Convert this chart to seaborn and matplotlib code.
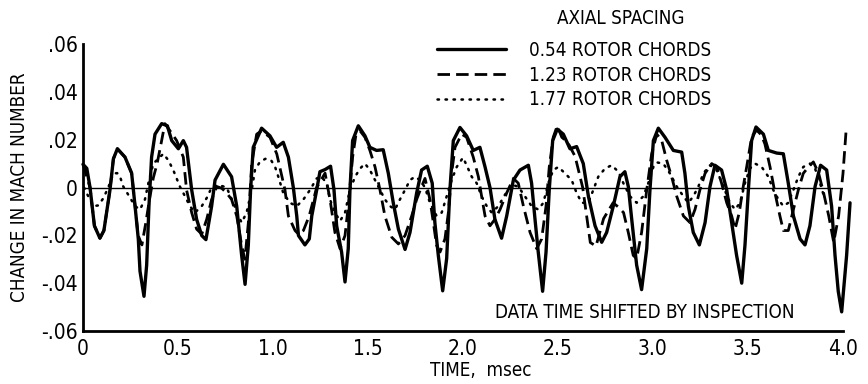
import matplotlib
matplotlib.use("Agg")
import matplotlib.pyplot as plt
from matplotlib.lines import Line2D
import seaborn as sns
import numpy as np
import pandas as pd

# ---------------- data ----------------
t_054 = [0.0, 0.02, 0.037, 0.06, 0.089, 0.11, 0.142, 0.16, 0.181, 0.221, 0.256, 0.274, 0.291, 0.300, 0.321,
         0.335, 0.347, 0.361, 0.379, 0.414, 0.444, 0.467, 0.502, 0.528, 0.545, 0.572, 0.598, 0.625, 0.647,
         0.677, 0.695, 0.739, 0.782, 0.809, 0.835, 0.853, 0.870, 0.882, 0.896, 0.940, 0.984, 1.019, 1.054,
         1.081, 1.107, 1.125, 1.134, 1.168, 1.191, 1.204, 1.230, 1.247, 1.274, 1.303, 1.321, 1.335, 1.361,
         1.379, 1.396, 1.405, 1.419, 1.449, 1.484, 1.510, 1.545, 1.580, 1.607, 1.633, 1.660, 1.695, 1.721,
         1.756, 1.782, 1.812, 1.838, 1.852, 1.870, 1.893, 1.914, 1.931, 1.949, 1.984, 2.019, 2.054, 2.089,
         2.116, 2.142, 2.168, 2.203, 2.230, 2.265, 2.300, 2.344, 2.361, 2.379, 2.396, 2.419, 2.437, 2.454,
         2.472, 2.496, 2.528, 2.563, 2.598, 2.633, 2.660, 2.695, 2.730, 2.756, 2.791, 2.826, 2.852, 2.870,
         2.888, 2.914, 2.940, 2.967, 2.984, 3.002, 3.028, 3.063, 3.107, 3.151, 3.168, 3.186, 3.212, 3.244,
         3.274, 3.300, 3.326, 3.361, 3.388, 3.414, 3.440, 3.467, 3.484, 3.502, 3.519, 3.542, 3.581, 3.607,
         3.651, 3.686, 3.712, 3.739, 3.774, 3.800, 3.826, 3.853, 3.882, 3.914, 3.940, 3.958, 3.975, 3.993,
         4.019, 4.037]
m_054 = [0.0097, 0.008, 0.0, -0.016, -0.0212, -0.018, -0.001, 0.012, 0.0162, 0.0127, 0.006, -0.0078, -0.0215,
         -0.035, -0.0455, -0.0325, -0.008, 0.0127, 0.0223, 0.0267, 0.0258, 0.0196, 0.0162, 0.0196, 0.0168,
         -0.001, -0.0133, -0.0201, -0.0218, -0.0078, 0.0031, 0.0097, 0.0045, -0.0078, -0.0284, -0.0405,
         -0.0242, -0.001, 0.0168, 0.0248, 0.0216, 0.0168, 0.0189, 0.0127, 0.0, -0.0119, -0.0201, -0.024,
         -0.0215, -0.0119, -0.001, 0.0066, 0.0075, 0.0089, -0.001, -0.016, -0.027, -0.0395, -0.0256, -0.001,
         0.0196, 0.0258, 0.0216, 0.0168, 0.0155, 0.0158, 0.0059, -0.0064, -0.0174, -0.0259, -0.0188, -0.0023,
         0.0073, 0.0089, 0.0018, -0.0147, -0.0284, -0.0432, -0.0297, -0.001, 0.0196, 0.0251, 0.0216, 0.0155,
         0.0168, 0.0086, 0.0, -0.0133, -0.0212, -0.0119, 0.0031, 0.0073, 0.0093, 0.0018, -0.0133, -0.027,
         -0.0434, -0.027, -0.001, 0.0196, 0.0244, 0.0223, 0.0162, 0.0171, 0.010, -0.0037, -0.016, -0.0229,
         -0.0188, -0.0078, 0.0045, 0.0066, 0.0004, -0.0133, -0.0325, -0.0427, -0.0256, -0.001, 0.0196,
         0.0248, 0.021, 0.0155, 0.0148, 0.0059, -0.0078, -0.0188, -0.024, -0.0147, 0.0004, 0.0093, 0.0073,
         -0.001, -0.0147, -0.0284, -0.040, -0.0242, -0.001, 0.0196, 0.0253, 0.0223, 0.0155, 0.0144, 0.0141,
         0.0018, -0.0119, -0.0215, -0.024, -0.016, 0.0004, 0.0093, 0.0073, -0.0078, -0.0284, -0.0434, -0.052,
         -0.0284, -0.0064]

t_123 = [0.0, 0.037, 0.06, 0.089, 0.11, 0.142, 0.16, 0.181, 0.221, 0.256, 0.274, 0.29, 0.31, 0.33, 0.35, 0.37,
         0.39, 0.41, 0.431, 0.458, 0.493, 0.528, 0.545, 0.572, 0.598, 0.625, 0.651, 0.677, 0.704, 0.730,
         0.756, 0.782, 0.809, 0.835, 0.852, 0.870, 0.888, 0.914, 0.940, 0.984, 1.02, 1.037, 1.063, 1.081,
         1.116, 1.134, 1.16, 1.19, 1.23, 1.274, 1.30, 1.326, 1.353, 1.379, 1.396, 1.419, 1.437, 1.458, 1.484,
         1.51, 1.537, 1.563, 1.589, 1.625, 1.66, 1.695, 1.73, 1.756, 1.782, 1.80, 1.826, 1.844, 1.861, 1.879,
         1.905, 1.923, 1.94, 1.958, 1.993, 2.019, 2.054, 2.081, 2.098, 2.116, 2.142, 2.168, 2.195, 2.23,
         2.265, 2.291, 2.318, 2.353, 2.388, 2.414, 2.437, 2.454, 2.475, 2.496, 2.52, 2.55, 2.59, 2.63, 2.67,
         2.70, 2.74, 2.79, 2.815, 2.845, 2.87, 2.896, 2.914, 2.94, 2.967, 2.993, 3.02, 3.046, 3.072, 3.098,
         3.125, 3.16, 3.195, 3.221, 3.247, 3.274, 3.309, 3.335, 3.361, 3.388, 3.414, 3.432, 3.454, 3.475,
         3.493, 3.519, 3.545, 3.57, 3.589, 3.616, 3.642, 3.668, 3.686, 3.712, 3.739, 3.765, 3.791, 3.818,
         3.844, 3.872, 3.898, 3.925, 3.951, 3.977, 4.0, 4.016]
m_123 = [0.0097, 0.0, -0.016, -0.0212, -0.018, -0.001, 0.012, 0.0162, 0.0127, 0.006, -0.008, -0.02, -0.024,
         -0.015, -0.005, 0.004, 0.01, 0.018, 0.0267, 0.0237, 0.0196, 0.0127, -0.001, -0.0105, -0.0174,
         -0.0195, -0.0133, -0.005, 0.0004, -0.0003, -0.0023, -0.005, -0.0119, -0.0242, -0.030, -0.015, 0.01,
         0.0223, 0.0237, 0.021, 0.014, 0.008, -0.001, -0.0119, -0.018, -0.0195, -0.018, -0.012, 0.0, 0.006,
         -0.005, -0.0188, -0.0256, -0.0201, -0.0078, 0.0127, 0.0223, 0.0237, 0.021, 0.0155, 0.0086, -0.001,
         -0.0119, -0.0208, -0.0236, -0.0201, -0.0119, -0.005, 0.0004, 0.0038, -0.005, -0.0147, -0.0242,
         -0.027, -0.0215, -0.0105, 0.0059, 0.0168, 0.0223, 0.021, 0.0127, 0.0045, -0.0037, -0.0119, -0.016,
         -0.0133, -0.0092, -0.0023, 0.0038, 0.0018, -0.0078, -0.0188, -0.0256, -0.0215, -0.0078, 0.0086,
         0.021, 0.0258, 0.021, 0.019, 0.013, 0.0, -0.023, -0.0245, -0.013, -0.0064, -0.008, -0.0105, -0.0188,
         -0.0284, -0.0297, -0.0188, -0.001, 0.0141, 0.0223, 0.0196, 0.0114, 0.0045, -0.0037, -0.0119,
         -0.0147, -0.0092, -0.001, 0.0059, 0.010, 0.0086, 0.0018, -0.0064, -0.0119, -0.0174, -0.0105, 0.0004,
         0.0086, 0.021, 0.024, 0.022, 0.0182, 0.0086, -0.0023, -0.0119, -0.018, -0.018, -0.0092, -0.001,
         0.0059, 0.0086, 0.0107, 0.0059, -0.0023, -0.0119, -0.0229, -0.0119, 0.0059, 0.0235]

t_177 = [0.005, 0.019, 0.054, 0.08, 0.107, 0.133, 0.16, 0.18, 0.195, 0.212, 0.238, 0.274, 0.30, 0.326, 0.344,
         0.37, 0.396, 0.423, 0.449, 0.475, 0.51, 0.537, 0.563, 0.589, 0.625, 0.651, 0.677, 0.712, 0.756,
         0.791, 0.818, 0.835, 0.861, 0.888, 0.905, 0.931, 0.96, 0.99, 1.011, 1.028, 1.054, 1.089, 1.125,
         1.16, 1.195, 1.23, 1.256, 1.282, 1.30, 1.326, 1.353, 1.379, 1.405, 1.432, 1.458, 1.484, 1.51,
         1.537, 1.563, 1.589, 1.616, 1.642, 1.668, 1.695, 1.721, 1.747, 1.774, 1.80, 1.826, 1.861, 1.888,
         1.914, 1.94, 1.967, 2.0, 2.019, 2.046, 2.072, 2.098, 2.125, 2.151, 2.186, 2.221, 2.256, 2.291,
         2.326, 2.361, 2.396, 2.423, 2.449, 2.475, 2.502, 2.537, 2.572, 2.598, 2.625, 2.66, 2.686, 2.712,
         2.747, 2.782, 2.818, 2.844, 2.879, 2.914, 2.949, 2.975, 3.002, 3.02, 3.054, 3.089, 3.125, 3.16,
         3.186, 3.212, 3.239, 3.265, 3.30, 3.335, 3.37, 3.405, 3.432, 3.458, 3.484, 3.51, 3.537, 3.572,
         3.607, 3.633, 3.66, 3.686, 3.712, 3.739, 3.765, 3.791, 3.826, 3.853, 3.879, 3.905]
m_177 = [0.0, -0.0023, -0.0078, -0.0075, -0.0045, 0.0, 0.0059, 0.006, 0.0045, 0.0004, -0.003, -0.0078,
         -0.0092, -0.005, 0.0018, 0.010, 0.012, 0.0141, 0.0114, 0.0073, 0.0004, -0.0037, -0.0078, -0.0105,
         -0.0078, -0.0044, 0.0, 0.0011, 0.0, -0.0064, -0.0119, -0.0147, -0.0105, -0.001, 0.0073, 0.0107,
         0.012, 0.0114, 0.0086, 0.0045, -0.0023, -0.0064, -0.0078, -0.005, -0.001, 0.0038, 0.0045, 0.0018,
         -0.005, -0.0105, -0.014, -0.0105, -0.001, 0.0045, 0.0079, 0.010, 0.0073, 0.0031, -0.001, -0.005,
         -0.0078, -0.0092, -0.005, -0.001, 0.0031, 0.0045, 0.0031, 0.0, -0.0064, -0.0119, -0.0105, -0.0037,
         0.0031, 0.0086, 0.0125, 0.0093, 0.0045, 0.0018, -0.0037, -0.0078, -0.0105, -0.0078, -0.003, 0.0011,
         0.0004, -0.0037, -0.0078, -0.0092, -0.0064, 0.0018, 0.0073, 0.0086, 0.0059, 0.0031, -0.0023,
         -0.0064, -0.0064, -0.001, 0.0045, 0.0079, 0.0093, 0.0066, 0.0018, -0.0037, -0.0064, -0.0037, 0.0018,
         0.0086, 0.0105, 0.010, 0.0059, 0.0004, -0.0037, -0.0064, -0.0037, 0.0004, 0.0059, 0.0093, 0.0073,
         0.0004, -0.0064, -0.0092, -0.0064, 0.0018, 0.0079, 0.010, 0.0086, 0.0045, -0.001, -0.005, -0.0078,
         -0.0064, -0.001, 0.0045, 0.0086, 0.010, 0.0079, 0.0018, -0.005]

series_labels = ["0.54 ROTOR CHORDS", "1.23 ROTOR CHORDS", "1.77 ROTOR CHORDS"]
x_ticks = [0, 0.5, 1.0, 1.5, 2.0, 2.5, 3.0, 3.5, 4.0]
x_ticklabels = ["0", "0.5", "1.0", "1.5", "2.0", "2.5", "3.0", "3.5", "4.0"]
y_ticks = [-0.06, -0.04, -0.02, 0, 0.02, 0.04, 0.06]
y_ticklabels = ["-.06", "-.04", "-.02", "0", ".02", ".04", ".06"]

# ---------------- style ----------------
sns.set_style("white")
plt.rcParams["font.family"] = ["DejaVu Sans"]
plt.rcParams["font.stretch"] = "condensed"
plt.rcParams["text.color"] = "black"
plt.rcParams["axes.labelcolor"] = "black"
plt.rcParams["xtick.color"] = "black"
plt.rcParams["ytick.color"] = "black"

fig = plt.figure(figsize=(8.68, 3.84), dpi=100)
W, H = 868, 384
ax = fig.add_axes([83 / W, 53 / H, 760 / W, 287 / H])

styles = [dict(lw=2.4, linestyle="-"),
          dict(lw=2.0, linestyle=(0, (4.5, 2.2))),
          dict(lw=1.8, linestyle=(0, (0.6, 2.6)), dash_capstyle="round")]
datasets = [(t_054, m_054), (t_123, m_123), (t_177, m_177)]

for (tt, mm), st in zip(datasets, styles):
    df = pd.DataFrame({"t": tt, "m": mm})
    sns.lineplot(data=df, x="t", y="m", ax=ax, color="black", estimator=None,
                 sort=False, clip_on=False, **st)

ax.axhline(0, color="black", lw=1.0)

ax.set_xlim(0, 4.0)
ax.set_ylim(-0.06, 0.06)
ax.set_xticks(x_ticks)
ax.set_xticklabels(x_ticklabels)
ax.set_yticks(y_ticks)
ax.set_yticklabels(y_ticklabels)
ax.tick_params(axis="both", direction="in", length=16, width=1.6, labelsize=15,
               colors="black", labelcolor="black")
ax.tick_params(axis="y", pad=4)
ax.tick_params(axis="x", pad=6)
for s in ["top", "right"]:
    ax.spines[s].set_visible(False)
for s in ["left", "bottom"]:
    ax.spines[s].set_linewidth(2.0)
    ax.spines[s].set_color("black")
ax.set_xlabel("")
ax.set_ylabel("")

fs = 13.5
fig.text(19.5 / W, 1 - 187 / H, "CHANGE IN MACH NUMBER", rotation=90, ha="center", va="center",
         fontsize=fs, color="black")
fig.text(481 / W, 1 - 370 / H, "TIME,  msec", ha="center", va="center", fontsize=fs, color="black")
fig.text(645 / W, 1 - 312 / H, "DATA TIME SHIFTED BY INSPECTION", ha="center", va="center",
         fontsize=fs, color="black")
fig.text(621 / W, 1 - 19 / H, "AXIAL SPACING", ha="center", va="center", fontsize=fs, color="black")

handles = [Line2D([], [], color="black", **st) for st in styles]
leg = ax.legend(handles, series_labels, loc="upper left", bbox_to_anchor=(437 / W, 1 - 41 / H),
                bbox_transform=fig.transFigure, frameon=False, borderpad=0, borderaxespad=0,
                handlelength=3.7, handletextpad=1.2, labelspacing=0.3, fontsize=fs)
for txt in leg.get_texts():
    txt.set_color("black")

fig.savefig("out.png", dpi=100)
